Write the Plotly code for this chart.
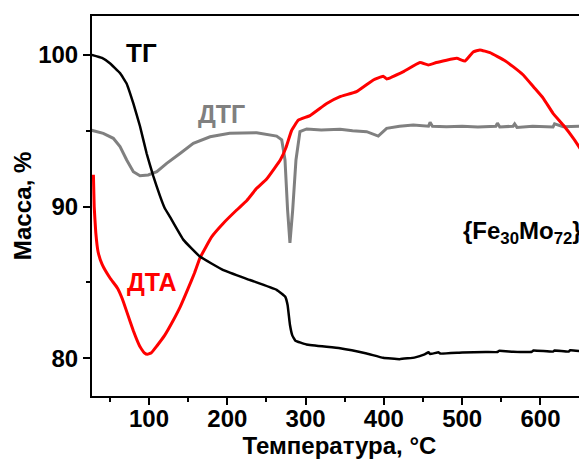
import plotly.graph_objects as go

# TG (mass, %)
tg_x = [27, 40, 50, 63, 71.5, 80, 88.5, 97, 105.5, 114, 120, 127, 144, 165, 195, 229, 263, 274, 277, 280, 283, 287, 301, 344, 378, 399, 420, 440, 452, 457, 459, 470, 472, 500, 530, 545, 547, 565, 589, 591, 616, 618, 636, 638, 659]
tg_y = [100.0, 99.8, 99.45, 98.8, 98.1, 96.8, 95.3, 93.5, 92.0, 90.7, 89.9, 89.3, 87.8, 86.7, 85.8, 85.15, 84.5, 84.05, 83.5, 82.2, 81.5, 81.15, 80.9, 80.65, 80.3, 80.02, 79.93, 80.05, 80.25, 80.38, 80.27, 80.38, 80.3, 80.37, 80.4, 80.4, 80.48, 80.42, 80.42, 80.5, 80.43, 80.5, 80.43, 80.52, 80.42]

# DTG (arbitrary, drawn in same coordinates)
dtg_x = [25, 41.6, 54.4, 63, 71.5, 80, 88.5, 99, 110, 122.6, 139.6, 156.6, 178, 203, 237.5, 263, 269.5, 273.7, 277, 280, 283.5, 287.7, 292.8, 301.4, 320, 344, 360, 378, 392.8, 403.5, 420, 437.5, 457, 459, 462, 480, 500, 520, 543, 545, 548, 565, 567, 570, 590, 616, 618, 629, 659]
dtg_y = [95.05, 94.83, 94.5, 93.95, 93.07, 92.3, 92.03, 92.08, 92.3, 92.85, 93.5, 94.17, 94.6, 94.83, 94.87, 94.65, 94.4, 93.07, 89.77, 87.6, 89.77, 93.07, 94.94, 95.12, 95.05, 95.1, 95.0, 94.94, 94.65, 95.16, 95.3, 95.38, 95.3, 95.55, 95.3, 95.27, 95.3, 95.25, 95.3, 95.5, 95.25, 95.3, 95.45, 95.22, 95.3, 95.25, 95.45, 95.27, 95.3]

# DTA (arbitrary, drawn in same coordinates)
dta_x = [29, 30, 32, 35, 40, 50, 60, 66, 72, 80, 88, 94, 98, 103, 110, 120, 130, 140, 150, 158, 165, 180, 195, 212, 225, 237.5, 250, 260, 268, 275, 282, 290.7, 305.6, 327, 344, 365, 386.5, 399, 403.5, 425, 446, 456.7, 467, 493, 503.6, 514, 522.7, 535.5, 554.7, 565, 578, 591, 603.6, 616, 629, 642, 659]
dta_y = [92.1, 90.0, 88.3, 87.0, 86.2, 85.3, 84.6, 83.9, 83.0, 81.8, 80.8, 80.35, 80.25, 80.35, 80.8, 81.5, 82.4, 83.4, 84.6, 85.6, 86.6, 88.0, 88.9, 89.77, 90.4, 91.2, 91.8, 92.5, 93.1, 93.9, 95.0, 95.7, 96.0, 96.8, 97.25, 97.58, 98.35, 98.6, 98.42, 98.9, 99.5, 99.34, 99.5, 99.78, 99.6, 100.2, 100.33, 100.15, 99.62, 99.23, 98.68, 97.9, 97.14, 96.15, 95.38, 94.5, 93.18]

FONT = "Liberation Sans, Arial, sans-serif"

fig = go.Figure()
fig.add_trace(go.Scatter(x=dtg_x, y=dtg_y, mode="lines", line=dict(color="#808080", width=3), showlegend=False))
fig.add_trace(go.Scatter(x=dta_x, y=dta_y, mode="lines", line=dict(color="#ff0000", width=3, shape="spline", smoothing=0.3), showlegend=False))
fig.add_trace(go.Scatter(x=tg_x, y=tg_y, mode="lines", line=dict(color="#000000", width=2.5, shape="spline", smoothing=0.3), showlegend=False))

ann = [
    ("ТГ", 89.8, 100.1, "#000000", 26),
    ("ДТГ", 193, 96.1, "#808080", 25),
    ("ДТА", 103.8, 85.0, "#ff0000", 25),
    ("{Fe<sub>30</sub>Mo<sub>72</sub>}", 577.6, 88.3, "#000000", 24),
]
for t, x, y, c, s in ann:
    fig.add_annotation(x=x, y=y, text=t, showarrow=False, xanchor="center", yanchor="middle",
                       font=dict(family=FONT, size=s, color=c, weight="bold"))

fig.update_layout(
    width=579, height=452,
    margin=dict(l=84, r=0, t=8, b=64),
    plot_bgcolor="white", paper_bgcolor="white",
    font=dict(family=FONT, size=24, color="black", weight="bold"),
)
fig.update_xaxes(
    range=[27.2, 659.4], tickmode="linear", tick0=0, dtick=100, automargin=False,
    ticks="outside", ticklen=7, tickwidth=2, tickcolor="black", ticklabelstandoff=-7,
    minor=dict(ticks="outside", ticklen=4, tickwidth=2, tickcolor="black", dtick=50, tick0=0),
    showline=True, linewidth=2, linecolor="black", mirror=True, showgrid=False, zeroline=False,
    title=dict(text="Температура, °C", standoff=0, font=dict(family=FONT, size=24, weight="bold")),
    tickfont=dict(family=FONT, size=24, weight="bold"),
)
fig.update_yaxes(
    range=[77.5, 102.57], tickmode="array", tickvals=[80, 90, 100], automargin=False,
    ticks="outside", ticklen=7, tickwidth=2, tickcolor="black",
    minor=dict(ticks="outside", ticklen=4, tickwidth=2, tickcolor="black", tickvals=[85, 95]),
    showline=True, linewidth=2, linecolor="black", mirror=False, showgrid=False, zeroline=False,
    title=dict(text="Масса, %", standoff=0, font=dict(family=FONT, size=24, weight="bold")),
    tickfont=dict(family=FONT, size=24, weight="bold"),
)
fig.write_html("out.html")
